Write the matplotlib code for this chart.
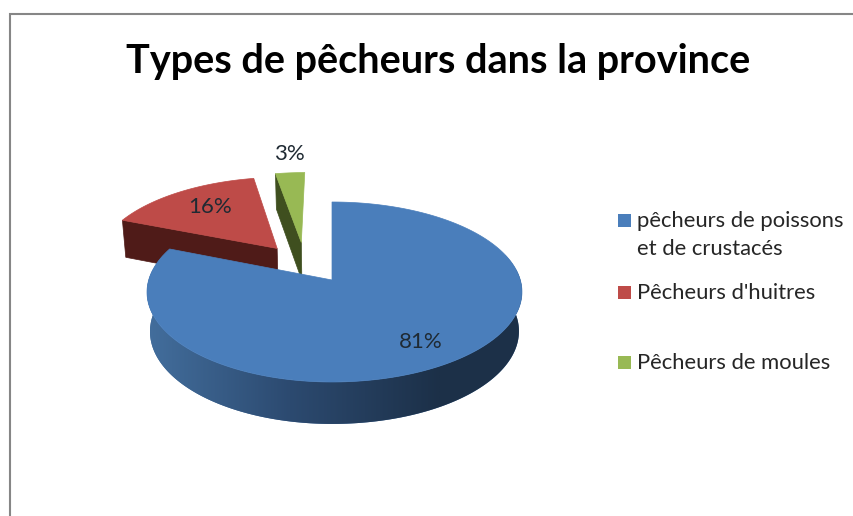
import numpy as np
import matplotlib
matplotlib.use('Agg')
import matplotlib.pyplot as plt
from matplotlib.colors import LinearSegmentedColormap
from matplotlib.patches import Polygon, Rectangle

title = "Types de pêcheurs dans la province"
categories = ["pêcheurs de poissons\net de crustacés", "Pêcheurs d'huitres", "Pêcheurs de moules"]
shares = [81, 16, 3]
share_labels = ["81%", "16%", "3%"]

top_colors = ['#4a7ebb', '#be4b48', '#98b954']
wall_colors = ['#2c4a70', '#4f1b18', '#3f4f1f']
# slice offset on the pie plane, in radii
explode = [(0, 0), (-0.31, 0.375), (-0.175, 0.45)]
label_pos = [(421, 342), (210, 207), (289, 154)]
legend_y = [220, 292, 362]

# projection of the pie plane to the picture
cx, cy = 332, 280
a, b, k = 185.8, 88.4, 0.1333


def project(u, v, shift=0):
    d = 1 + k * v
    return cx + a * u / d + shift * abs(u), cy - b * v / d


def project_bottom(u, v, shift=0):
    x, y = project(u, v, shift)
    return cx + 2 + (x - cx - 2) * 0.984, y + 39 / (1 + 0.07 * v)


fig = plt.figure(figsize=(8.54, 5.16), dpi=100)
ax = fig.add_axes([0, 0, 1, 1])

# chart frame, runs off the right and bottom of the picture
ax.add_patch(Rectangle((10, 14), 900, 600, fc='white', ec='#868686', lw=1.5, zorder=0))

edges = np.cumsum([0] + shares) / sum(shares) * 2 * np.pi

# red and green walls first, the blue slice covers their lower part
for i in [1, 2]:
    ox, oy = explode[i]
    t = edges[i]
    rim = (ox + np.sin(t), oy + np.cos(t))
    wall = [project(*rim), project(ox, oy), project_bottom(ox, oy), project_bottom(*rim)]
    ax.add_patch(Polygon(wall, fc=wall_colors[i], ec=wall_colors[i], lw=0.5, zorder=2))
    th = np.linspace(edges[i], edges[i + 1], 60)
    pts = [project(ox, oy)] + [project(ox + np.sin(q), oy + np.cos(q)) for q in th]
    ax.add_patch(Polygon(pts, fc=top_colors[i], ec=top_colors[i], lw=0.5, zorder=3))

# blue wall, gradient along x drawn as thin strips clipped to the wall shape
th = np.linspace(np.pi / 2 - 0.3, 3 * np.pi / 2 + 0.3, 300)
upper = [project(np.sin(q), np.cos(q), 2.5) for q in th]
lower = [project_bottom(np.sin(q), np.cos(q), 2.5) for q in th[::-1]]
wall = Polygon(upper + lower, fc='#3f6a9c', ec='none', zorder=3.5)
ax.add_patch(wall)
cmap = LinearSegmentedColormap.from_list('wall', ['#44709f', '#2c4a70', '#1c3048'])
img = ax.imshow(np.linspace(0, 1, 256).reshape(1, -1), cmap=cmap, extent=(140, 440, 430, 270),
                aspect='auto', zorder=4)
grad_right = ax.imshow(np.ones((1, 2)), cmap=cmap, vmin=0, vmax=1, extent=(440, 530, 430, 270),
                       aspect='auto', zorder=4)
img.set_clip_path(wall)
grad_right.set_clip_path(wall)

# blue top
th = np.linspace(edges[0], edges[1], 300)
pts = [project(0, 0)] + [project(np.sin(q), np.cos(q), 2.5) for q in th]
ax.add_patch(Polygon(pts, fc=top_colors[0], ec=top_colors[0], lw=0.5, zorder=5))

# labels
for s, (x, y) in zip(share_labels, label_pos):
    ax.text(x, y, s, fontsize=16, family='Lato', color='#1f2a33', ha='center', va='center', zorder=6)

ax.text(438, 61, title, fontsize=28.5, family='Lato', fontweight='bold', color='black',
        ha='center', va='center', zorder=6)

# legend
for cat, col, y in zip(categories, top_colors, legend_y):
    ax.add_patch(Rectangle((618, y - 6.5), 13, 13, fc=col, ec='none', zorder=6))
    ax.text(637, y - 9, cat, fontsize=15.8, family='Lato', color='#262626', ha='left', va='top',
            linespacing=1.5, zorder=6)

ax.set_xlim(0, 854)
ax.set_ylim(516, 0)
ax.axis('off')

fig.savefig('out.png', dpi=100)
